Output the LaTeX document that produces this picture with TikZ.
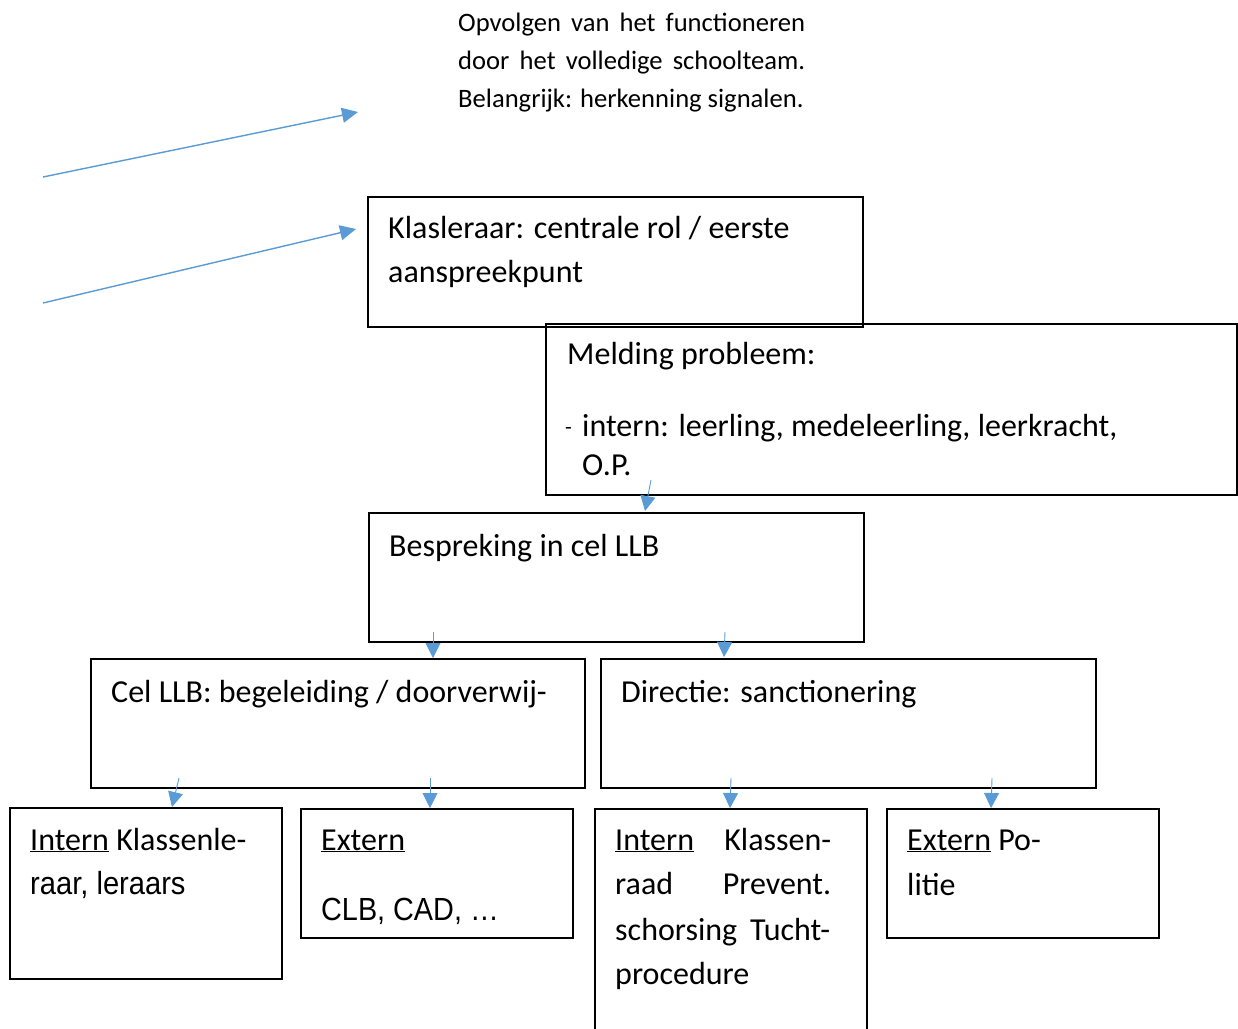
\documentclass[tikz,border=0pt]{standalone}
\usepackage{fontspec}
\usepackage{graphicx}
\setmainfont{Carlito}
\newfontfamily\arialf{Liberation Sans}
\usetikzlibrary{arrows.meta,calc}
\definecolor{arrblue}{HTML}{5B9BD5}
\tikzset{
  box/.style={draw=black, line width=1.7pt, anchor=north west, inner sep=0pt},
  txt/.style={anchor=base west, inner sep=0pt, font=\fontsize{32}{38}\selectfont},
  smalltxt/.style={anchor=base west, inner sep=0pt, font=\fontsize{26.6}{32}\selectfont},
  longarr/.style={draw=arrblue, line width=1.4pt, -{Triangle[length=16pt,width=15pt]}},
  shortarr/.style={draw=arrblue, line width=0.9pt, -{Triangle[length=15pt,width=15pt]}}
}
\begin{document}
\begin{tikzpicture}[x=1pt,y=-1pt]
\clip (0,0) rectangle (1238,1028);
\fill[white] (0,0) rectangle (1238,1028);

% top text
\node[smalltxt] (top1) at (458,31) {\hbox to 347pt{Opvolgen van het functioneren}};
\node[smalltxt] (top2) at (458,69) {\hbox to 347pt{door het volledige schoolteam.}};
\node[smalltxt] (top3) at (458,107) {Belangrijk: herkenning signalen.};

% boxes
\node[box, minimum width=495pt, minimum height=130pt] (klas) at (367,196) {};
\node[box, minimum width=691pt, minimum height=171pt] (meld) at (545,323) {};
\node[box, minimum width=495pt, minimum height=129pt] (besp) at (368,512) {};
\node[box, minimum width=494pt, minimum height=129pt] (cel) at (90,658) {};
\node[box, minimum width=495pt, minimum height=129pt] (dir) at (600,658) {};
\node[box, minimum width=272pt, minimum height=171pt] (int1) at (9,807) {};
\node[box, minimum width=272pt, minimum height=129pt] (ext1) at (300,808) {};
\node[box, minimum width=272pt, minimum height=260pt] (int2) at (594,808) {};
\node[box, minimum width=272pt, minimum height=129pt] (ext2) at (886,808) {};

% texts
\node[txt] (klasA) at (388,238) {Klasleraar: centrale rol / eerste};
\node[txt] (klasB) at (388,282) {aanspreekpunt};

\node[txt] (meldA) at (567,364) {Melding probleem:};
\node[anchor=base west, inner sep=0pt, font=\fontsize{22}{26}\selectfont] (meldDash) at (565,434) {-};
\node[txt] (meldB) at (582,436) {intern: leerling, medeleerling, leerkracht,};
\node[txt] (meldC) at (582,475) {O.P.};

\node[txt] (bespA) at (389,556) {Bespreking in cel LLB};
\node[txt] (celA) at (111,702) {Cel LLB: begeleiding / doorverwij-};
\node[txt] (dirA) at (621,702) {Directie: sanctionering};

\node[txt] (int1A) at (30,850) {\underline{Intern} Klassenle-};
\node[txt] (int1B) at (30,894) {\scalebox{0.91}[1]{\arialf raar, leraars}};

\node[txt] (ext1A) at (321,850) {\underline{Extern}};
\node[txt] (ext1B) at (321,920) {\scalebox{0.9}[1]{\arialf CLB, CAD, \dots}};

\node[txt] (int2A) at (615,850) {\hbox to 216pt{\underline{Intern}\hfill Klassen-}};
\node[txt] (int2B) at (615,894) {\hbox to 216pt{raad\hfill Prevent.}};
\node[txt] (int2C) at (615,940) {\hbox to 215pt{schorsing Tucht-}};
\node[txt] (int2D) at (615,984) {procedure};

\node[txt] (ext2A) at (907,850) {\underline{Extern} Po-};
\node[txt] (ext2B) at (907,895) {litie};

% long arrows
\coordinate (la1s) at (43,177);
\coordinate (la1e) at (358,112);
\coordinate (la2s) at (43,303);
\coordinate (la2e) at (356,229);
\draw[longarr] (la1s) -- (la1e);
\draw[longarr] (la2s) -- (la2e);

% short arrows
\coordinate (m1) at (651,480);
\coordinate (m1e) at (645,511);
\draw[shortarr] (m1) -- (m1e);

\coordinate (b1) at (433,632);
\draw[shortarr] (b1) -- (b1 |- cel.north);
\coordinate (b2) at (725,632);
\draw[shortarr] (b2) -- (724,657);

\coordinate (c1) at (179,778);
\coordinate (c1e) at (172,807);
\draw[shortarr] (c1) -- (c1e);
\coordinate (c2) at (430,778);
\draw[shortarr] (c2) -- (c2 |- ext1.north);

\coordinate (d1) at (731,778);
\draw[shortarr] (d1) -- (730,808);
\coordinate (d2) at (992,778);
\draw[shortarr] (d2) -- (991,808);
\end{tikzpicture}
\end{document}
